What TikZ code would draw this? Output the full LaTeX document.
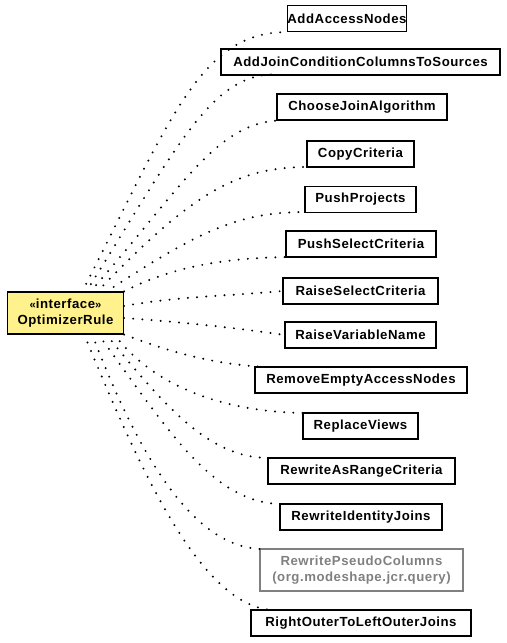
\documentclass[tikz,border=0pt]{standalone}
\usepackage{fontspec}
\setmainfont{Liberation Sans}[LetterSpace=4]
\usepackage{xcolor}
\definecolor{ifacefill}{RGB}{255,242,140}
\definecolor{grayrule}{RGB}{128,128,128}

\tikzset{
    rulebox/.style={draw=black,line width=0.6pt,minimum height=13pt,inner sep=0pt,
        font=\fontsize{6.6}{7.9}\selectfont\bfseries},
    greybox/.style={rulebox,draw=grayrule,text=grayrule,align=center,minimum height=21pt},
    ifacebox/.style={rulebox,fill=ifacefill,align=center,minimum height=21pt},
    impl/.style={line width=1.1pt,line cap=round,dash pattern=on 0pt off 4.6pt}
}

\begin{document}
\begin{tikzpicture}[x=0.5pt,y=-0.5pt]
        \useasboundingbox (0,0) rectangle (507,643);
        % the interface
        \node[ifacebox,minimum width=58pt] (iface) at (65.5,313) {{\fontsize{5.6}{7}\selectfont\guillemotleft}interface{\fontsize{5.6}{7}\selectfont\guillemotright}\\OptimizerRule};
        % the rules
        \node[rulebox,minimum width=58pt] (add) at (347,18.5) {AddAccessNodes};
        \node[rulebox,minimum width=139.5pt] (join) at (360.5,62) {AddJoinConditionColumnsToSources};
        \node[rulebox,minimum width=85pt] (choose) at (362,107) {ChooseJoinAlgorithm};
        \node[rulebox,minimum width=53.5pt] (copy) at (360.5,154) {CopyCriteria};
        \node[rulebox,minimum width=55.5pt] (proj) at (360.5,199.5) {PushProjects};
        \node[rulebox,minimum width=75pt] (push) at (361,244) {PushSelectCriteria};
        \node[rulebox,minimum width=77.5pt] (raise) at (360.5,291) {RaiseSelectCriteria};
        \node[rulebox,minimum width=75.5pt] (rvar) at (360.5,335) {RaiseVariableName};
        \node[rulebox,minimum width=106pt] (empty) at (361,380) {RemoveEmptyAccessNodes};
        \node[rulebox,minimum width=57.5pt] (views) at (360.5,426) {ReplaceViews};
        \node[rulebox,minimum width=93.5pt] (range) at (361.5,471) {RewriteAsRangeCriteria};
        \node[rulebox,minimum width=81pt] (ident) at (361,517) {RewriteIdentityJoins};
        \node[greybox,minimum width=101.5pt] (pseudo) at (361.5,570) {RewritePseudoColumns\\(org.modeshape.jcr.query)};
        \node[rulebox,minimum width=110pt] (outer) at (361,623) {RightOuterToLeftOuterJoins};
        % realizations
        \draw[impl] (82,292) .. controls (170,120) and (200,32) .. (add.south west);
        \draw[impl] (86,292) .. controls (175,150) and (210,76) .. (272,74.5);
        \draw[impl] (90,292) .. controls (180,190) and (215,124) .. (278,120.5);
        \draw[impl] (97,292) .. controls (190,195) and (235,167) .. (308,167);
        \draw[impl] (106,292) .. controls (200,230) and (240,212) .. (306,212);
        \draw[impl] (iface.north east) .. controls (175,265) and (230,258) .. (287,257);
        \draw[impl] (124,306) .. controls (180,296) and (230,296) .. (raise.west);
        \draw[impl] (124,318) .. controls (180,322) and (230,327) .. (rvar.west);
        \draw[impl] (iface.south east) .. controls (165,350) and (215,366) .. (272,367);
        \draw[impl] (114,334) .. controls (160,395) and (240,412) .. (303,413);
        \draw[impl] (106,334) .. controls (175,420) and (215,458) .. (270,458);
        \draw[impl] (98,334) .. controls (165,425) and (210,502) .. (280,504);
        \draw[impl] (92,334) .. controls (140,460) and (195,548) .. (262,549);
        \draw[impl] (84,334) .. controls (140,470) and (200,605) .. (272,610);
\end{tikzpicture}
\end{document}
